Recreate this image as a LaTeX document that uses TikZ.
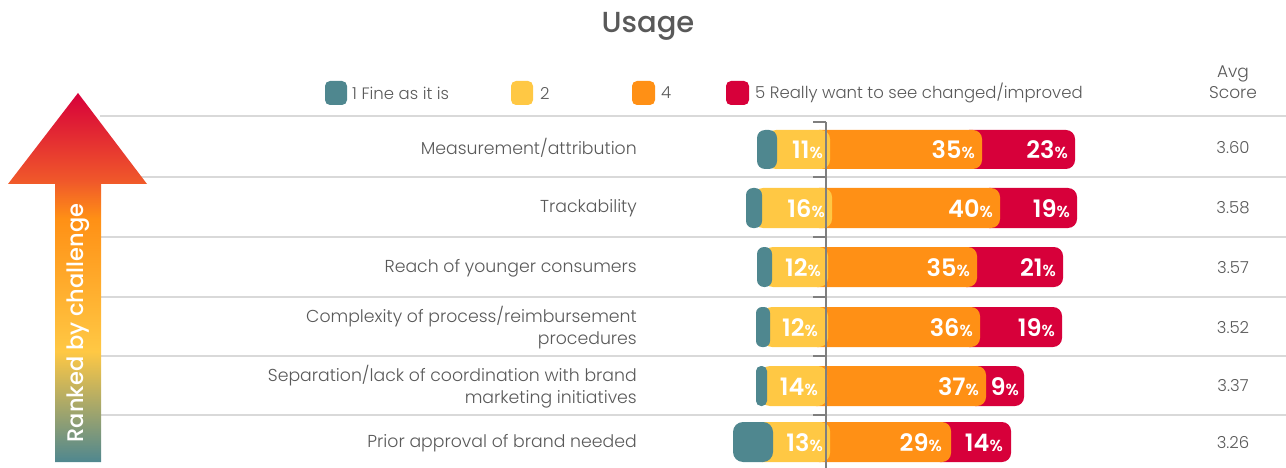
\documentclass[tikz,border=0pt]{standalone}
\usepackage{fontspec}
\setmainfont{Poppins}[UprightFont=* Light, BoldFont=* SemiBold]
\newfontfamily\medf{Poppins Medium}
\definecolor{tealc}{HTML}{4F878F}
\definecolor{yelc}{HTML}{FFC844}
\definecolor{orac}{HTML}{FF9015}
\definecolor{redc}{HTML}{D7003A}
\definecolor{redorc}{HTML}{F0592A}
\definecolor{txtc}{HTML}{595959}
\definecolor{linec}{HTML}{D9D9D9}
\definecolor{axisc}{HTML}{7F7F7F}
\pgfdeclareverticalshading{rankshade}{100bp}{color(0bp)=(tealc); color(25bp)=(tealc); color(40bp)=(yelc); color(58bp)=(orac); color(63bp)=(redorc); color(75bp)=(redc); color(100bp)=(redc)}
\begin{document}
\begin{tikzpicture}[x=1pt,y=-1pt,
    lbl/.style={text=txtc,font=\fontsize{17.3}{22}\selectfont,align=right,anchor=east,inner sep=0pt},
    score/.style={text=txtc,font=\fontsize{16.5}{21}\selectfont,inner sep=0pt},
    pct/.style={text=white,anchor=base east,inner sep=0pt},
    seg/.style={rounded corners=9pt}]
  \useasboundingbox (0,0) rectangle (1286,468);
  % title and legend
  \node[text=txtc,font=\fontsize{29}{30}\selectfont\medf] (title) at (648,26) {Usage};
  \fill[tealc,rounded corners=5pt] (325,81) rectangle (347,105);
  \fill[yelc,rounded corners=5pt] (511,81) rectangle (533,105);
  \fill[orac,rounded corners=5pt] (632,81) rectangle (655,105);
  \fill[redc,rounded corners=5pt] (726,81) rectangle (749,105);
  \node[score,anchor=west] (l1) at (352,93) {1 Fine as it is};
  \node[score,anchor=west] (l2) at (540,93) {2};
  \node[score,anchor=west] (l4) at (661,93) {4};
  \node[score,anchor=west] (l5) at (755,93) {5 Really want to see changed/improved};
  \node[score,align=center,font=\fontsize{17}{21.5}\selectfont] (avg) at (1233,82) {Avg\\Score};
  % grid
  \draw[linec,line width=1.2pt] (100,116) -- (1286,116);
  \draw[linec,line width=1.2pt] (100,177) -- (1286,177);
  \draw[linec,line width=1.2pt] (100,237) -- (1286,237);
  \draw[linec,line width=1.2pt] (100,297) -- (1286,297);
  \draw[linec,line width=1.2pt] (100,356) -- (1286,356);
  \draw[linec,line width=1.2pt] (100,415) -- (1286,415);
  % arrow
  \shade[shading=rankshade] (78,93) -- (147,184) -- (101,184) -- (101,462)
    -- (55,462) -- (55,184) -- (8,184) -- cycle;
  \node[rotate=90,text=white,font=\fontsize{22.5}{24}\selectfont\medf] (rank) at (78,323) {Ranked by challenge};
  % row labels
  \node[lbl] (r1) at (637,148) {Measurement/attribution};
  \node[lbl] (r2) at (637,208) {Trackability};
  \node[lbl] (r3) at (637,268) {Reach of younger consumers};
  \node[lbl] (r4) at (637,328) {Complexity of process/reimbursement\\procedures};
  \node[lbl] (r5) at (637,387) {Separation/lack of coordination with brand\\marketing initiatives};
  \node[lbl] (r6) at (637,443) {Prior approval of brand needed};
  % bars
  \fill[seg,redc] (960,130) rectangle (1075,169);
  \fill[seg,orac] (810,130) rectangle (982,169);
  \fill[seg,yelc] (767,130) rectangle (830,169);
  \fill[seg,tealc,rounded corners=8pt] (757,130) rectangle (777,169);
  \fill[seg,redc] (980,188) rectangle (1077,228);
  \fill[seg,orac] (810,188) rectangle (1000,228);
  \fill[seg,yelc] (754,188) rectangle (832,228);
  \fill[seg,tealc,rounded corners=7pt] (746,188) rectangle (762,228);
  \fill[seg,redc] (957,247) rectangle (1063,287);
  \fill[seg,orac] (808,247) rectangle (977,287);
  \fill[seg,yelc] (764,247) rectangle (828,287);
  \fill[seg,tealc,rounded corners=7pt] (757,247) rectangle (772,287);
  \fill[seg,redc] (960,307) rectangle (1062,347);
  \fill[seg,orac] (808,307) rectangle (980,347);
  \fill[seg,yelc] (763,307) rectangle (828,347);
  \fill[seg,tealc,rounded corners=6pt] (756,307) rectangle (770,347);
  \fill[seg,redc] (966,366) rectangle (1024,406);
  \fill[seg,orac] (807,366) rectangle (986,406);
  \fill[seg,yelc] (761,366) rectangle (827,406);
  \fill[seg,tealc,rounded corners=5pt] (756,366) rectangle (767,406);
  \fill[seg,redc] (931,422) rectangle (1011,462);
  \fill[seg,orac] (810,422) rectangle (951,462);
  \fill[seg,yelc] (753,422) rectangle (830,462);
  \fill[seg,tealc,rounded corners=10pt] (733,422) rectangle (773,462);
  % axis
  \draw[axisc,line width=1.2pt] (826,122) -- (826,468);
  \draw[axisc,line width=1.2pt] (813,122) -- (826,122);
  \draw[axisc,line width=1.2pt] (813,177) -- (826,177);
  \draw[axisc,line width=1.2pt] (813,237) -- (826,237);
  \draw[axisc,line width=1.2pt] (813,297) -- (826,297);
  \draw[axisc,line width=1.2pt] (813,356) -- (826,356);
  \draw[axisc,line width=1.2pt] (813,415) -- (826,415);
  % percentages
  \node[pct] (p1a) at (823,159) {\fontsize{24}{24}\selectfont\bfseries 11\fontsize{16}{16}\selectfont\%};
  \node[pct] (p1b) at (975,159) {\fontsize{24}{24}\selectfont\bfseries 35\fontsize{16}{16}\selectfont\%};
  \node[pct] (p1c) at (1068,159) {\fontsize{24}{24}\selectfont\bfseries 23\fontsize{16}{16}\selectfont\%};
  \node[pct] (p2a) at (825,217.5) {\fontsize{24}{24}\selectfont\bfseries 16\fontsize{16}{16}\selectfont\%};
  \node[pct] (p2b) at (993,217.5) {\fontsize{24}{24}\selectfont\bfseries 40\fontsize{16}{16}\selectfont\%};
  \node[pct] (p2c) at (1070,217.5) {\fontsize{24}{24}\selectfont\bfseries 19\fontsize{16}{16}\selectfont\%};
  \node[pct] (p3a) at (821,276.5) {\fontsize{24}{24}\selectfont\bfseries 12\fontsize{16}{16}\selectfont\%};
  \node[pct] (p3b) at (970,276.5) {\fontsize{24}{24}\selectfont\bfseries 35\fontsize{16}{16}\selectfont\%};
  \node[pct] (p3c) at (1056,276.5) {\fontsize{24}{24}\selectfont\bfseries 21\fontsize{16}{16}\selectfont\%};
  \node[pct] (p4a) at (818,336.5) {\fontsize{24}{24}\selectfont\bfseries 12\fontsize{16}{16}\selectfont\%};
  \node[pct] (p4b) at (973,336.5) {\fontsize{24}{24}\selectfont\bfseries 36\fontsize{16}{16}\selectfont\%};
  \node[pct] (p4c) at (1055,336.5) {\fontsize{24}{24}\selectfont\bfseries 19\fontsize{16}{16}\selectfont\%};
  \node[pct] (p5a) at (818,395.5) {\fontsize{24}{24}\selectfont\bfseries 14\fontsize{16}{16}\selectfont\%};
  \node[pct] (p5b) at (979,395.5) {\fontsize{24}{24}\selectfont\bfseries 37\fontsize{16}{16}\selectfont\%};
  \node[pct] (p5c) at (1019,395.5) {\fontsize{24}{24}\selectfont\bfseries 9\fontsize{16}{16}\selectfont\%};
  \node[pct] (p6a) at (823,451.5) {\fontsize{24}{24}\selectfont\bfseries 13\fontsize{16}{16}\selectfont\%};
  \node[pct] (p6b) at (942,451.5) {\fontsize{24}{24}\selectfont\bfseries 29\fontsize{16}{16}\selectfont\%};
  \node[pct] (p6c) at (1003,451.5) {\fontsize{24}{24}\selectfont\bfseries 14\fontsize{16}{16}\selectfont\%};
  % avg scores
  \node[score] (s1) at (1233,148) {3.60};
  \node[score] (s2) at (1233,208) {3.58};
  \node[score] (s3) at (1233,268) {3.57};
  \node[score] (s4) at (1233,328) {3.52};
  \node[score] (s5) at (1233,386) {3.37};
  \node[score] (s6) at (1233,443) {3.26};
\end{tikzpicture}
\end{document}
